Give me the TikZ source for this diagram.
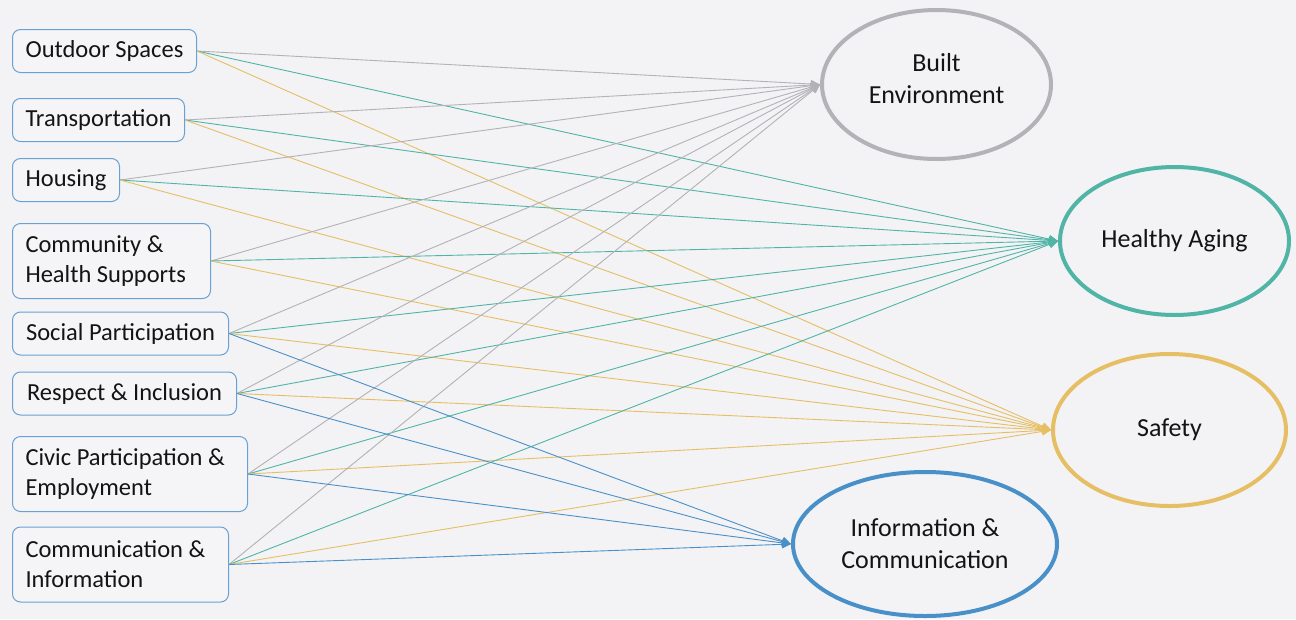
\documentclass[tikz,border=0pt]{standalone}
\usepackage{fontspec}
\setmainfont{Carlito}
\usetikzlibrary{shapes.geometric,arrows.meta}

\definecolor{bg}{RGB}{243,243,245}
\definecolor{boxfill}{RGB}{245,245,247}
\definecolor{boxline}{RGB}{104,161,212}
\definecolor{cgray}{RGB}{178,178,183}
\definecolor{cteal}{RGB}{80,180,166}
\definecolor{cgold}{RGB}{230,190,100}
\definecolor{cblue}{RGB}{74,144,200}
\definecolor{ink}{RGB}{20,20,20}

\begin{document}
\begin{tikzpicture}[x=1pt,y=-1pt,
  factor/.style={draw=boxline, line width=1pt, rounded corners=8pt, fill=boxfill,
    text=ink, align=flush left, anchor=west, inner xsep=13pt, inner ysep=0pt,
    font=\fontsize{24.5}{30}\selectfont},
  outcome/.style={ellipse, line width=4pt, text=ink, align=center, inner sep=0pt,
    font=\fontsize{26}{32}\selectfont},
  link/.style={line width=0.9pt, -{Triangle[length=9pt,width=8pt]}},
]
% canvas
\fill[bg] (0,0) rectangle (1296,619);
\useasboundingbox (0,0) rectangle (1296,619);

% age-friendly domains
\node[factor, minimum width=184pt, minimum height=43pt] (outdoor)   at (12,51)    {Outdoor Spaces};
\node[factor, minimum width=172pt, minimum height=43pt] (transport) at (12,120)   {Transportation};
\node[factor, minimum width=107pt, minimum height=43pt] (housing)   at (12,180)   {Housing};
\node[factor, text width=172pt, minimum height=75pt]    (community) at (12,261)   {Community \&\\Health Supports};
\node[factor, minimum width=216pt, minimum height=43pt] (social)    at (12,333.5) {Social Participation};
\node[factor, minimum width=224pt, minimum height=43pt] (respect)   at (12,393.5) {Respect \& Inclusion};
\node[factor, text width=209pt, minimum height=75pt]    (civic)     at (12,474)   {Civic Participation \&\\Employment};
\node[factor, text width=190pt, minimum height=75pt]    (commun)    at (12,564.5) {Communication \&\\Information};

% outcome themes
\node[outcome, draw=cgray, minimum width=229pt, minimum height=149pt,
      label={[font=\fontsize{26}{32}\selectfont, text=ink, align=center, yshift=6pt]center:Built\\Environment}]
      (built) at (936.5,84.5) {};
\node[outcome, draw=cteal, minimum width=229pt, minimum height=148pt] (healthy) at (1174.5,241) {Healthy Aging};
\node[outcome, draw=cgold, minimum width=233pt, minimum height=152pt] (safety)  at (1169.5,430) {Safety};
\node[outcome, draw=cblue, minimum width=264pt, minimum height=144pt] (info)    at (925,544)    {Information \&\\Communication};

% links from domains to themes
\foreach \s in {outdoor,transport,housing,community,social,respect,civic,commun}{
  \draw[link, cgray] (\s.east) -- (built.west);
  \draw[link, cteal] (\s.east) -- (healthy.west);
  \draw[link, cgold] (\s.east) -- (safety.west);
}
\foreach \s in {social,respect,civic,commun}{
  \draw[link, cblue] (\s.east) -- (info.west);
}
\end{tikzpicture}
\end{document}
